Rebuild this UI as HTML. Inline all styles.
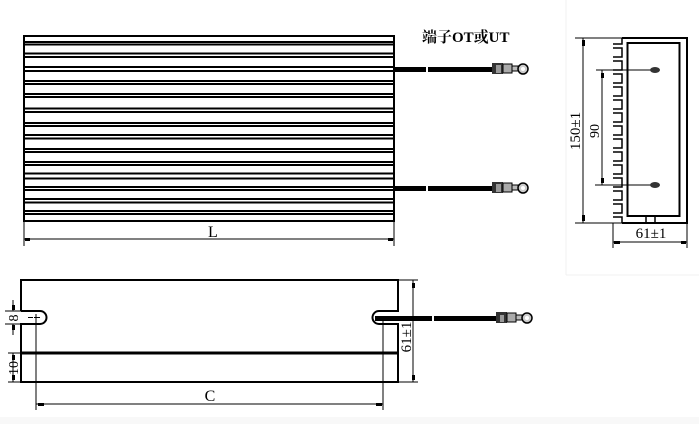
<!DOCTYPE html>
<html><head><meta charset="utf-8"><style>
html,body{margin:0;padding:0;background:#fff;width:699px;height:424px;overflow:hidden}
svg{display:block}
text{font-family:"Liberation Serif","Noto Serif CJK SC",serif;fill:#000}
</style></head><body>
<svg width="699" height="424" viewBox="0 0 699 424" xmlns="http://www.w3.org/2000/svg">
<rect x="0" y="417" width="699" height="7" fill="#f8f8f8"/>
<line x1="566" y1="0" x2="566" y2="275" stroke="#f0f0f0"/>
<line x1="566" y1="275" x2="699" y2="275" stroke="#f0f0f0"/>
<!-- top view -->
<g stroke="#000" fill="none">
<rect x="24" y="36" width="370" height="185" stroke-width="2"/>
<g stroke-width="2">
<line x1="24" y1="42" x2="394" y2="42"/><line x1="24" y1="44.5" x2="394" y2="44.5"/>
<line x1="24" y1="53.5" x2="394" y2="53.5"/><line x1="24" y1="57" x2="394" y2="57"/>
<line x1="24" y1="67" x2="394" y2="67"/><line x1="24" y1="71" x2="394" y2="71"/>
<line x1="24" y1="81" x2="394" y2="81"/><line x1="24" y1="84" x2="394" y2="84"/>
<line x1="24" y1="94" x2="394" y2="94"/><line x1="24" y1="97" x2="394" y2="97"/>
<line x1="24" y1="108.5" x2="394" y2="108.5"/><line x1="24" y1="112" x2="394" y2="112"/>
<line x1="24" y1="123" x2="394" y2="123"/><line x1="24" y1="126" x2="394" y2="126"/>
<line x1="24" y1="135" x2="394" y2="135"/><line x1="24" y1="138.5" x2="394" y2="138.5"/>
<line x1="24" y1="149" x2="394" y2="149"/><line x1="24" y1="152" x2="394" y2="152"/>
<line x1="24" y1="162" x2="394" y2="162"/><line x1="24" y1="165" x2="394" y2="165"/>
<line x1="24" y1="173.5" x2="394" y2="173.5"/><line x1="24" y1="178.5" x2="394" y2="178.5"/>
<line x1="24" y1="187" x2="394" y2="187"/><line x1="24" y1="190" x2="394" y2="190"/>
<line x1="24" y1="199" x2="394" y2="199"/><line x1="24" y1="202.5" x2="394" y2="202.5"/>
<line x1="24" y1="211" x2="394" y2="211"/><line x1="24" y1="214" x2="394" y2="214"/>
</g>
<line x1="24" y1="221" x2="24" y2="246" stroke-width="1"/>
<line x1="394" y1="221" x2="394" y2="246" stroke-width="1"/>
<line x1="24" y1="239" x2="394" y2="239" stroke-width="1"/>
</g>
<rect x="25" y="238" width="5" height="3"/><rect x="388" y="238" width="5" height="3"/>
<text x="208" y="237" font-family="Liberation Sans,sans-serif" font-size="16">L</text>
<text x="422" y="42" font-size="15" font-weight="bold">端子OT或UT</text>
<!-- wires top -->
<g>
<rect x="394" y="67" width="32" height="5"/><rect x="428" y="67" width="65" height="5"/>
<rect x="492" y="63" width="11" height="11" fill="#333"/><rect x="496" y="65" width="5" height="8" fill="#999"/>
<rect x="503" y="64" width="9" height="9" fill="#aaa" stroke="#000"/>
<rect x="512" y="66" width="6" height="5" fill="#bbb" stroke="#000"/>
<circle cx="523" cy="69" r="5" fill="#ccc" stroke="#000" stroke-width="1.5"/><circle cx="523" cy="69" r="2" fill="#fff"/>
<rect x="394" y="186" width="32" height="5"/><rect x="428" y="186" width="65" height="5"/>
<rect x="492" y="182" width="11" height="11" fill="#333"/><rect x="496" y="184" width="5" height="8" fill="#999"/>
<rect x="503" y="183" width="9" height="9" fill="#aaa" stroke="#000"/>
<rect x="512" y="185" width="6" height="5" fill="#bbb" stroke="#000"/>
<circle cx="523" cy="188" r="5" fill="#ccc" stroke="#000" stroke-width="1.5"/><circle cx="523" cy="188" r="2" fill="#fff"/>
</g>
<!-- side view -->
<g stroke="#000" fill="none">
<path d="M622 38 H687 V223 H622" stroke-width="2"/>
<rect x="627.5" y="43" width="52" height="173" stroke-width="2"/>
<line x1="646" y1="216" x2="646" y2="223" stroke-width="1.5"/><line x1="655" y1="216" x2="655" y2="223" stroke-width="1.5"/>
<path d="M622 38 V44 H613 M613 48 H622 V57 H613 M613 61 H622 V70 H613 M613 74 H622 V83 H613 M613 87 H622 V96 H613 M613 100 H622 V109 H613 M613 113 H622 V122 H613 M613 126 H622 V135 H613 M613 139 H622 V148 H613 M613 152 H622 V161 H613 M613 165 H622 V174 H613 M613 178 H622 V187 H613 M613 191 H622 V200 H613 M613 204 H622 V213 H613 M613 217 H622 V223" stroke-width="1.5"/>
<line x1="575" y1="38" x2="622" y2="38"/><line x1="575" y1="223" x2="622" y2="223"/>
<line x1="583" y1="38" x2="583" y2="223"/>
<line x1="596" y1="70" x2="655" y2="70"/><line x1="595" y1="185" x2="655" y2="185"/>
<line x1="602" y1="70" x2="602" y2="185"/>
<line x1="613" y1="223" x2="613" y2="248"/><line x1="687" y1="223" x2="687" y2="248"/>
<line x1="613" y1="242" x2="687" y2="242"/>
</g>
<rect x="582" y="40" width="3" height="6"/><rect x="582" y="215" width="3" height="6"/>
<rect x="601" y="73" width="3" height="5"/><rect x="601" y="178" width="3" height="5"/>
<ellipse cx="655" cy="70" rx="5" ry="3" fill="#333"/><ellipse cx="655" cy="185" rx="5" ry="3" fill="#333"/>
<rect x="614" y="241" width="6" height="3"/><rect x="681" y="241" width="5" height="3"/>
<text transform="translate(580,131) rotate(-90)" font-size="15" text-anchor="middle">150±1</text>
<text transform="translate(599,131) rotate(-90)" font-size="14" text-anchor="middle">90</text>
<text x="651" y="238" font-size="15" text-anchor="middle">61±1</text>
<!-- bottom view -->
<g stroke="#000" fill="none">
<path d="M21 311 V280 H398 V311 H379 A6.5 6.5 0 0 0 379 324 H398 V382 H21 V324 H40 A6.5 6.5 0 0 0 40 311 H21" stroke-width="2"/>
<line x1="21" y1="353" x2="398" y2="353" stroke-width="3"/>
<line x1="5" y1="311" x2="21" y2="311"/><line x1="5" y1="324" x2="21" y2="324"/>
<line x1="8" y1="353" x2="21" y2="353"/><line x1="8" y1="382" x2="21" y2="382"/>
<line x1="13" y1="300" x2="13" y2="311"/><line x1="13" y1="324" x2="13" y2="335"/>
<line x1="13" y1="353" x2="13" y2="382"/>
<line x1="36" y1="318" x2="36" y2="410"/><line x1="383" y1="318" x2="383" y2="410"/>
<line x1="28" y1="317.5" x2="33" y2="317.5"/><line x1="34" y1="317.5" x2="40" y2="317.5"/><line x1="36" y1="314" x2="36" y2="321"/>
<line x1="36" y1="404" x2="383" y2="404"/>
<line x1="398" y1="280" x2="418" y2="280"/><line x1="398" y1="382" x2="418" y2="382"/>
<line x1="413" y1="280" x2="413" y2="382"/>
</g>
<rect x="12" y="305" width="3" height="5"/><rect x="12" y="325" width="3" height="5"/>
<rect x="12" y="355" width="3" height="5"/><rect x="12" y="375" width="3" height="5"/>
<rect x="412" y="283" width="3" height="5"/><rect x="412" y="375" width="3" height="5"/>
<rect x="38" y="403" width="6" height="3"/><rect x="376" y="403" width="6" height="3"/>
<text transform="translate(18,318) rotate(-90)" font-size="14" text-anchor="middle">8</text>
<text transform="translate(18,368) rotate(-90)" font-size="14" text-anchor="middle">10</text>
<text transform="translate(411,337) rotate(-90)" font-size="15" text-anchor="middle">61±1</text>
<text x="210" y="401" font-size="16" text-anchor="middle">C</text>
<rect x="375" y="316" width="57" height="5"/><rect x="434" y="316" width="63" height="5"/>
<rect x="496" y="312" width="11" height="11" fill="#333"/><rect x="500" y="315" width="4" height="7" fill="#999"/>
<rect x="507" y="313" width="9" height="9" fill="#aaa" stroke="#000"/>
<rect x="516" y="315" width="6" height="5" fill="#bbb" stroke="#000"/>
<circle cx="527" cy="318" r="5" fill="#ccc" stroke="#000" stroke-width="1.5"/><circle cx="527" cy="318" r="2" fill="#fff"/>
</svg>
</body></html>
